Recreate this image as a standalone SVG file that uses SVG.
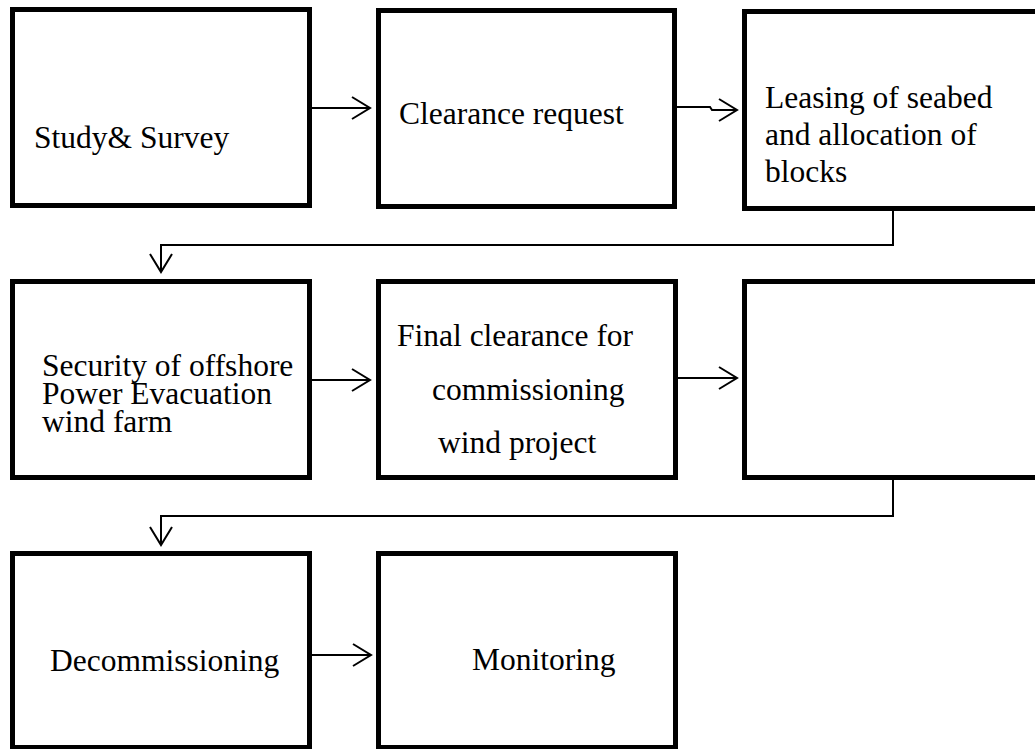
<svg xmlns="http://www.w3.org/2000/svg" width="1035" height="749" viewBox="0 0 1035 749">
<style>
.box{fill:#fff;stroke:#000;stroke-width:5;stroke-linejoin:miter}
.lbl{font-family:'Liberation Serif','Tinos','Times New Roman','DejaVu Serif',serif;font-size:31.5px;fill:#000}
.con{fill:none;stroke:#000;stroke-width:2}
</style>
<defs>
<marker id="arr" markerUnits="userSpaceOnUse" orient="auto" markerWidth="24" markerHeight="26" refX="19" refY="12" viewBox="0 0 24 26">
<path d="M1,1 L19,12 L1,23" fill="none" stroke="#000" stroke-width="2"/>
</marker>
</defs>
<rect width="1035" height="749" fill="#fff"/>
<g id="connectors">
<path class="con" d="M312,108 H370" marker-end="url(#arr)"/>
<path class="con" d="M677,107 H710 L712,110 H737" marker-end="url(#arr)"/>
<path class="con" d="M893,211 V245 H161 V272" stroke-width="1.5" marker-end="url(#arr)"/>
<path class="con" d="M312,380 H370" stroke-width="3" marker-end="url(#arr)"/>
<path class="con" d="M678,378 H737" stroke-width="3" marker-end="url(#arr)"/>
<path class="con" d="M893,480 V516 H161 V545" stroke-width="1.5" marker-end="url(#arr)"/>
<path class="con" d="M311,655 H371" marker-end="url(#arr)"/>
</g>
<g id="n1"><rect class="box" x="12.5" y="9.5" width="297" height="196"/><text class="lbl" font-family="Liberation Serif, serif" x="34" y="148">Study&amp; Survey</text></g>
<g id="n2"><rect class="box" x="378.5" y="10.5" width="296" height="196"/><text class="lbl" x="399" y="124">Clearance request</text></g>
<g id="n3"><rect class="box" x="744.5" y="11.5" width="300" height="197"/><text class="lbl" x="765"><tspan x="765" y="108">Leasing of seabed</tspan><tspan x="765" y="145">and allocation of</tspan><tspan x="765" y="182">blocks</tspan></text></g>
<g id="n4"><rect class="box" x="12.5" y="281.5" width="297" height="196"/><text class="lbl"><tspan x="42" y="376">Security of offshore</tspan><tspan x="42" y="404">Power Evacuation</tspan><tspan x="42" y="432">wind farm</tspan></text></g>
<g id="n5"><rect class="box" x="378.5" y="281.5" width="297" height="196"/><text class="lbl"><tspan x="397" y="346">Final clearance for</tspan><tspan x="432" y="400">commissioning</tspan><tspan x="438" y="453">wind project</tspan></text></g>
<g id="n6"><rect class="box" x="744.5" y="281.5" width="300" height="196"/></g>
<g id="n7"><rect class="box" x="12.5" y="553.5" width="297" height="194"/><text class="lbl" x="50" y="671">Decommissioning</text></g>
<g id="n8"><rect class="box" x="378.5" y="553.5" width="297" height="194"/><text class="lbl" x="472" y="670">Monitoring</text></g>
</svg>
